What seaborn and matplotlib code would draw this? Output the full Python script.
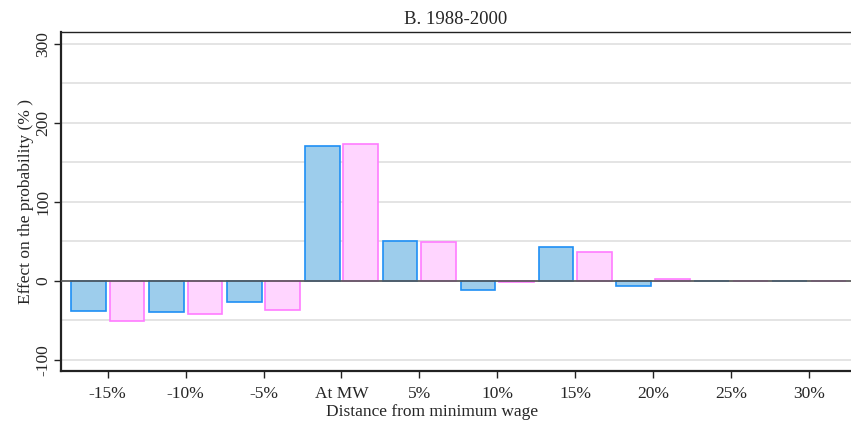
import pandas as pd
import numpy as np
import matplotlib
matplotlib.use('Agg')
import matplotlib.pyplot as plt
from matplotlib.ticker import MultipleLocator
import seaborn as sns

# ---- data ----
categories = ['-15%', '-10%', '-5%', 'At MW', '5%', '10%', '15%', '20%', '25%', '30%']
series_a = [-38, -39, -27, 171, 50, -11, 43, -7, 0, 0]
series_b = [-51, -42, -37, 173, 49, -2, 36, 2, 0, 0]
series_names = ['Series A', 'Series B']

df = pd.DataFrame({
    'Distance': categories * 2,
    'Effect': series_a + series_b,
    'Series': [series_names[0]] * len(categories) + [series_names[1]] * len(categories),
})

fills = ['#9dcdec', '#ffd5ff']
edges = ['#1e8ff5', '#ff7cff']

sns.set_style('white')
plt.rcParams['font.family'] = ['Liberation Serif', 'DejaVu Serif']
plt.rcParams['axes.unicode_minus'] = False

fig = plt.figure(figsize=(8.51, 4.23), dpi=100)
ax = fig.add_axes([61 / 851, 1 - 371 / 423, 1 - 61 / 851, (371 - 32) / 423])

sns.barplot(data=df, x='Distance', y='Effect', hue='Series', order=categories,
            hue_order=series_names, palette=fills, saturation=1, width=0.99,
            gap=0.1, linewidth=1.2, legend=False, ax=ax, zorder=3)
for cont, ec in zip(ax.containers, edges):
    for bar in cont:
        bar.set_edgecolor(ec)

ax.axhline(0, color='#555555', lw=1.2, zorder=4)

ax.set_ylim(-114, 315)
ax.set_xlim(-0.6, 9.54)
ax.yaxis.set_major_locator(MultipleLocator(100))
ax.yaxis.set_minor_locator(MultipleLocator(50))
ax.grid(axis='y', which='both', color='#e2e2e2', lw=1.3, zorder=0)
ax.set_axisbelow(True)

ax.tick_params(axis='y', which='major', length=5, width=1, color='#222222',
               labelsize=12.5, pad=2, left=True)
ax.tick_params(axis='y', which='minor', length=0)
ax.tick_params(axis='x', length=5, width=1, color='#222222', labelsize=12.5,
               pad=6, bottom=True)
for lab in ax.get_yticklabels():
    lab.set_rotation(90)
    lab.set_va('center')

for side in ['left', 'bottom']:
    ax.spines[side].set_color('#222222')
    ax.spines[side].set_linewidth(1.6)
ax.spines['top'].set_color('#222222')
ax.spines['top'].set_linewidth(1.0)
ax.spines['right'].set_visible(False)

ax.set_xlabel('Distance from minimum wage', fontsize=12.5, labelpad=0)
ax.xaxis.set_label_coords(0.47, -0.098)
ax.xaxis.label.set_va('top')
ax.set_ylabel('Effect on the probability (% )', fontsize=12.5, labelpad=1)
ax.set_title('B. 1988-2000', fontsize=13.5, pad=6)

plt.savefig('out.png', dpi=100)
plt.close()
